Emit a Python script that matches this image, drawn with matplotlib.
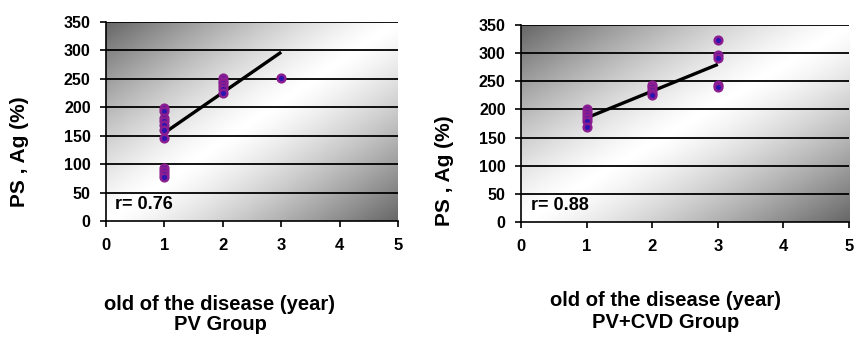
import numpy as np
import matplotlib
matplotlib.use('Agg')
import matplotlib.pyplot as plt

plt.rcParams['font.family'] = ['Liberation Sans', 'DejaVu Sans']

# PV group
pv_x = [1, 1, 1, 1, 1, 1, 1, 1, 1, 1, 1, 2, 2, 2, 2, 2, 2, 3]
pv_y = [198, 194, 181, 175, 169, 160, 146, 93, 88, 83, 78,
        252, 247, 243, 238, 232, 225, 252]
pv_trend_x = [1, 3]
pv_trend_y = [155, 297]
pv_r = 'r= 0.76'

# PV+CVD group
cvd_x = [1, 1, 1, 1, 1, 1, 2, 2, 2, 2, 2, 3, 3, 3, 3, 3]
cvd_y = [200, 196, 190, 185, 180, 168,
         244, 239, 235, 230, 225,
         323, 297, 292, 243, 239]
cvd_trend_x = [1, 3]
cvd_trend_y = [185, 280]
cvd_r = 'r= 0.88'

y_ticks = [0, 50, 100, 150, 200, 250, 300, 350]
x_ticks = [0, 1, 2, 3, 4, 5]


def gradient_background(ax):
    xx, yy = np.meshgrid(np.linspace(0, 1, 300), np.linspace(0, 1, 200))
    u = np.abs(xx - yy)
    shade = 1 - 0.6 * u ** 1.3
    ax.imshow(shade, extent=[0, 1, 0, 1], transform=ax.transAxes, origin='lower',
              cmap='gray', vmin=0, vmax=1, aspect='auto', zorder=0,
              interpolation='bilinear')


def scatter_panel(ax, x, y, tx, ty, rtext):
    gradient_background(ax)
    ax.set_xlim(0, 5)
    ax.set_ylim(0, 350)
    for v in y_ticks[1:]:
        ax.axhline(v, color='black', lw=1.3, zorder=1)
    ax.plot(tx, ty, color='black', lw=2.4, zorder=3, solid_capstyle='butt')
    ax.plot(x, y, 'o', ms=5.5, mfc='#2c14b0', mec='#8a1d8f', mew=1.8, zorder=4)
    ax.set_xticks(x_ticks)
    ax.set_yticks(y_ticks)
    ax.tick_params(axis='y', direction='out', length=4, width=1.2, pad=7,
                   labelsize=11.5)
    ax.tick_params(axis='x', direction='out', length=4, width=1.2, pad=8,
                   labelsize=12)
    for lab in ax.get_xticklabels() + ax.get_yticklabels():
        lab.set_fontweight('bold')
    for side in ['top', 'right']:
        ax.spines[side].set_visible(False)
    for side in ['left', 'bottom']:
        ax.spines[side].set_linewidth(1.2)
        ax.spines[side].set_zorder(5)
    ax.text(0.03, 0.085, rtext, transform=ax.transAxes, fontsize=13,
            fontweight='bold', va='center', ha='left', zorder=6)


fig = plt.figure(figsize=(8.56, 3.37), dpi=100)
ax1 = fig.add_axes([106 / 856, 1 - 221 / 337, 292 / 856, 199 / 337])
ax2 = fig.add_axes([521 / 856, 1 - 222 / 337, 328 / 856, 197 / 337])

scatter_panel(ax1, pv_x, pv_y, pv_trend_x, pv_trend_y, pv_r)
scatter_panel(ax2, cvd_x, cvd_y, cvd_trend_x, cvd_trend_y, cvd_r)

fig.text(20 / 856, 1 - 152 / 337, 'PS , Ag (%)', rotation=90, fontsize=15,
         fontweight='bold', ha='center', va='center')
fig.text(445 / 856, 1 - 171 / 337, 'PS , Ag (%)', rotation=90, fontsize=15,
         fontweight='bold', ha='center', va='center')

fig.text(220 / 856, 1 - 304 / 337, 'old of the disease (year)', fontsize=14.5,
         fontweight='bold', ha='center', va='center')
fig.text(220 / 856, 1 - 324 / 337, 'PV Group', fontsize=14.5,
         fontweight='bold', ha='center', va='center')
fig.text(666 / 856, 1 - 301 / 337, 'old of the disease (year)', fontsize=14.5,
         fontweight='bold', ha='center', va='center')
fig.text(666 / 856, 1 - 322 / 337, 'PV+CVD Group', fontsize=14.5,
         fontweight='bold', ha='center', va='center')

fig.savefig('out.png', dpi=100)
